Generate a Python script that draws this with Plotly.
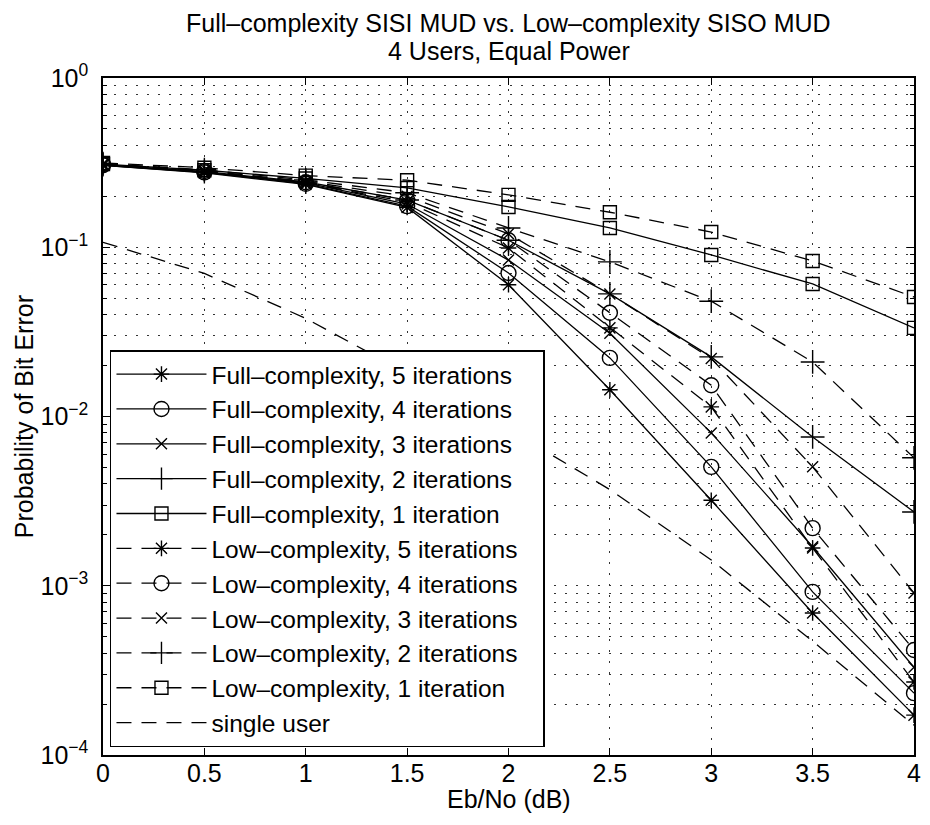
import plotly.graph_objects as go

ebno = [0, 0.5, 1, 1.5, 2, 2.5, 3, 3.5, 4]

full_5 = [0.305, 0.275, 0.235, 0.172, 0.060, 0.0144, 0.0032, 0.00069, 0.000172]
full_4 = [0.305, 0.277, 0.237, 0.175, 0.0705, 0.0222, 0.00504, 0.00092, 0.000232]
full_3 = [0.306, 0.278, 0.240, 0.180, 0.084, 0.031, 0.0080, 0.0017, 0.00033]
full_2 = [0.308, 0.280, 0.243, 0.190, 0.110, 0.053, 0.0225, 0.00757, 0.00273]
full_1 = [0.310, 0.285, 0.255, 0.224, 0.173, 0.130, 0.090, 0.0607, 0.0334]
low_5 = [0.308, 0.280, 0.240, 0.185, 0.099, 0.0334, 0.0114, 0.00167, 0.00027]
low_4 = [0.309, 0.282, 0.242, 0.190, 0.110, 0.041, 0.0153, 0.00219, 0.000417]
low_3 = [0.310, 0.284, 0.245, 0.200, 0.120, 0.053, 0.022, 0.00504, 0.000906]
low_2 = [0.312, 0.287, 0.250, 0.210, 0.130, 0.082, 0.048, 0.021, 0.0057]
low_1 = [0.315, 0.295, 0.265, 0.249, 0.204, 0.161, 0.123, 0.083, 0.0508]
single_user = [0.107, 0.070, 0.038, 0.018, 0.0084, 0.0037, 0.00142, 0.00047, 0.00015]

names = [
    "Full–complexity, 5 iterations",
    "Full–complexity, 4 iterations",
    "Full–complexity, 3 iterations",
    "Full–complexity, 2 iterations",
    "Full–complexity, 1 iteration",
    "Low–complexity, 5 iterations\u00a0\u00a0\u00a0",
    "Low–complexity, 4 iterations",
    "Low–complexity, 3 iterations",
    "Low–complexity, 2 iterations",
    "Low–complexity, 1 iteration",
    "single user",
]
series = [full_5, full_4, full_3, full_2, full_1, low_5, low_4, low_3, low_2, low_1, single_user]
symbols = ["asterisk-open", "circle-open", "x-thin-open", "cross-thin-open", "square-open"] * 2 + [None]
sizes = {"asterisk-open": 13, "circle-open": 15, "x-thin-open": 11, "cross-thin-open": 17, "square-open": 13}

title_lines = ["Full–complexity SISI MUD vs. Low–complexity SISO MUD", "4 Users, Equal Power"]
x_title = "Eb/No (dB)"
y_title = "Probability of Bit Error"

FONT = "Liberation Sans, Arial, Helvetica, sans-serif"
FS = 25
DASH = "15px,10px"
GRID = dict(showgrid=True, gridcolor="#333", gridwidth=1.2, griddash="1.5px,9.5px")

fig = go.Figure()
for i, (nm, ys, sym) in enumerate(zip(names, series, symbols)):
    dash = "solid" if i < 5 else DASH
    if sym is None:
        fig.add_trace(go.Scatter(x=ebno, y=ys, name=nm, mode="lines",
                                 line=dict(color="black", width=1.3, dash=dash)))
    else:
        fig.add_trace(go.Scatter(x=ebno, y=ys, name=nm, mode="lines+markers",
                                 line=dict(color="black", width=1.3, dash=dash),
                                 marker=dict(symbol=sym, size=sizes[sym], color="black",
                                             line=dict(color="black", width=1.4))))

y_tickvals = [1e-4, 1e-3, 1e-2, 1e-1, 1]
y_ticktext = ["10<sup>−4</sup>", "10<sup>−3</sup>", "10<sup>−2</sup>", "10<sup>−1</sup>", "10<sup>0</sup>"]
x_tickvals = [0, 0.5, 1, 1.5, 2, 2.5, 3, 3.5, 4]
x_ticktext = ["0", "0.5", "1", "1.5", "2", "2.5", "3", "3.5", "4"]
minor_vals = [m * 10 ** e for e in range(-4, 0) for m in range(2, 10)]

# page body has an 8px margin, so the figure is sized to the visible area
fig.update_layout(
    width=922, height=817,
    margin=dict(l=95, r=9, t=70, b=70),
    paper_bgcolor="white", plot_bgcolor="white",
    font=dict(family=FONT, size=FS, color="black"),
    showlegend=True,
    legend=dict(x=0.0086, y=0.598, xanchor="left", yanchor="top",
                bgcolor="white", bordercolor="black", borderwidth=1.5,
                font=dict(family=FONT, size=24.5, color="black"),
                itemwidth=90),
)
for txt, ypos in zip(title_lines, [1.0812, 1.0399]):
    fig.add_annotation(text=txt, xref="paper", yref="paper", x=0.5, y=ypos,
                       xanchor="center", yanchor="middle", showarrow=False,
                       font=dict(family=FONT, size=FS, color="black"))
fig.add_annotation(text=x_title, xref="paper", yref="paper", x=0.5, y=-0.0886,
                   xanchor="center", yanchor="bottom", showarrow=False,
                   font=dict(family=FONT, size=FS, color="black"))
fig.add_annotation(text=y_title, xref="paper", yref="paper", x=-0.0978, y=0.5,
                   xanchor="center", yanchor="middle", showarrow=False, textangle=-90,
                   font=dict(family=FONT, size=FS, color="black"))

fig.update_xaxes(range=[0, 4], tickvals=x_tickvals, ticktext=x_ticktext,
                 showline=True, linecolor="black", linewidth=1.5, mirror="allticks",
                 ticks="inside", ticklen=7, tickwidth=1.2, tickcolor="black",
                 zeroline=False, ticklabelstandoff=-5,
                 tickfont=dict(size=FS), **GRID)
fig.update_yaxes(type="log", range=[-4, 0], tickvals=y_tickvals, ticktext=y_ticktext,
                 showline=True, linecolor="black", linewidth=1.5, mirror="allticks",
                 ticks="inside", ticklen=7, tickwidth=1.2, tickcolor="black",
                 zeroline=False, ticklabelstandoff=8,
                 minor=dict(tickvals=minor_vals, ticks="inside", ticklen=4, tickcolor="black",
                            showgrid=True, gridcolor="#333", gridwidth=1.2, griddash="1.5px,9.5px"),
                 tickfont=dict(size=FS), **GRID)

fig.write_html("out.html")
